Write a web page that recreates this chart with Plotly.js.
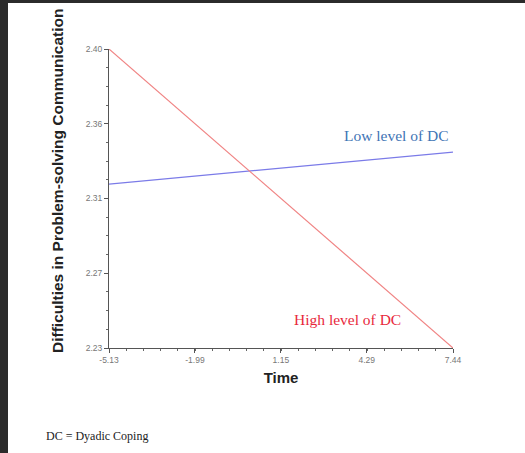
<!DOCTYPE html>
<html>
<head>
<meta charset="utf-8">
<script src="https://cdn.plot.ly/plotly-3.0.1.min.js"></script>
<style>
  html, body { margin: 0; padding: 0; background: #2b2b2b; width: 525px; height: 453px; overflow: hidden; }
  #chart { position: absolute; left: 8px; top: 3px; width: 517px; height: 450px; background: #ffffff; }
</style>
</head>
<body>
<div id="chart"></div>
<script>
// Data
const timePoints = [-5.13, 7.44];
const lowDC = [2.3207, 2.3389];
const highDC = [2.3975, 2.2275];

const xTickVals = [-5.13, -1.99, 1.15, 4.29, 7.44];
const xTickText = ["-5.13", "-1.99", "1.15", "4.29", "7.44"];
const yTickVals = [2.2275, 2.27, 2.3125, 2.355, 2.3975];
const yTickText = ["2.23", "2.27", "2.31", "2.36", "2.40"];

const seriesNames = ["Low level of DC", "High level of DC"];
const footnote = "DC = Dyadic Coping";

const traces = [
  { x: timePoints, y: lowDC, type: "scatter", mode: "lines", name: seriesNames[0],
    line: { color: "#7b7be8", width: 1.2 }, hoverinfo: "skip" },
  { x: timePoints, y: highDC, type: "scatter", mode: "lines", name: seriesNames[1],
    line: { color: "#f08484", width: 1.2 }, hoverinfo: "skip" }
];

const tickFont = { family: "Liberation Sans, Arial, sans-serif", size: 8.5, color: "#777777" };

const layout = {
  width: 517, height: 450,
  margin: { l: 101, r: 72, t: 46, b: 105, pad: 0 },
  paper_bgcolor: "#ffffff", plot_bgcolor: "#ffffff",
  showlegend: false,
  xaxis: {
    range: [-5.13, 7.44], tickmode: "array", tickvals: xTickVals, ticktext: xTickText,
    showgrid: false, zeroline: false, showline: true, linecolor: "#555555", linewidth: 1,
    ticks: "outside", ticklen: 4, tickcolor: "#555555", tickfont: tickFont,
    minor: { tickmode: "linear", tick0: -5.13, dtick: 0.6285, ticks: "outside", ticklen: 2, tickcolor: "#666666", showgrid: false },
    title: { text: "Time", font: { family: "Liberation Sans, Arial, sans-serif", size: 15, color: "#222222", weight: "bold" }, standoff: 8 }
  },
  yaxis: {
    range: [2.2275, 2.3975], tickmode: "array", tickvals: yTickVals, ticktext: yTickText,
    showgrid: false, zeroline: false, showline: true, linecolor: "#555555", linewidth: 1,
    ticks: "outside", ticklen: 4, tickcolor: "#555555", tickfont: tickFont,
    minor: { tickmode: "linear", tick0: 2.2275, dtick: 0.010625, ticks: "outside", ticklen: 2, tickcolor: "#666666", showgrid: false }
  },
  annotations: [
    { text: "<b>Difficulties in Problem-solving Communication</b>", textangle: -90,
      xref: "paper", yref: "paper", x: (49 - 101) / 344, y: (345 - 178) / 299,
      xanchor: "center", yanchor: "middle", showarrow: false,
      font: { family: "Liberation Sans, Arial, sans-serif", size: 15.5, color: "#222222" } },
    { text: seriesNames[0], xref: "x", yref: "paper", x: 5.36, y: (345 - 132) / 299,
      xanchor: "center", yanchor: "middle", showarrow: false,
      font: { family: "Liberation Serif, Times New Roman, serif", size: 15.5, color: "#3f75b5" } },
    { text: seriesNames[1], xref: "x", yref: "paper", x: 3.60, y: (345 - 316) / 299,
      xanchor: "center", yanchor: "middle", showarrow: false,
      font: { family: "Liberation Serif, Times New Roman, serif", size: 15.5, color: "#e8283c" } },
    { text: footnote, xref: "paper", yref: "paper", x: (36 - 101) / 344, y: (345 - 433) / 299,
      xanchor: "left", yanchor: "middle", showarrow: false,
      font: { family: "Liberation Serif, Times New Roman, serif", size: 12, color: "#222222" } }
  ]
};

Plotly.newPlot("chart", traces, layout, { staticPlot: true, displayModeBar: false });
</script>
</body>
</html>
